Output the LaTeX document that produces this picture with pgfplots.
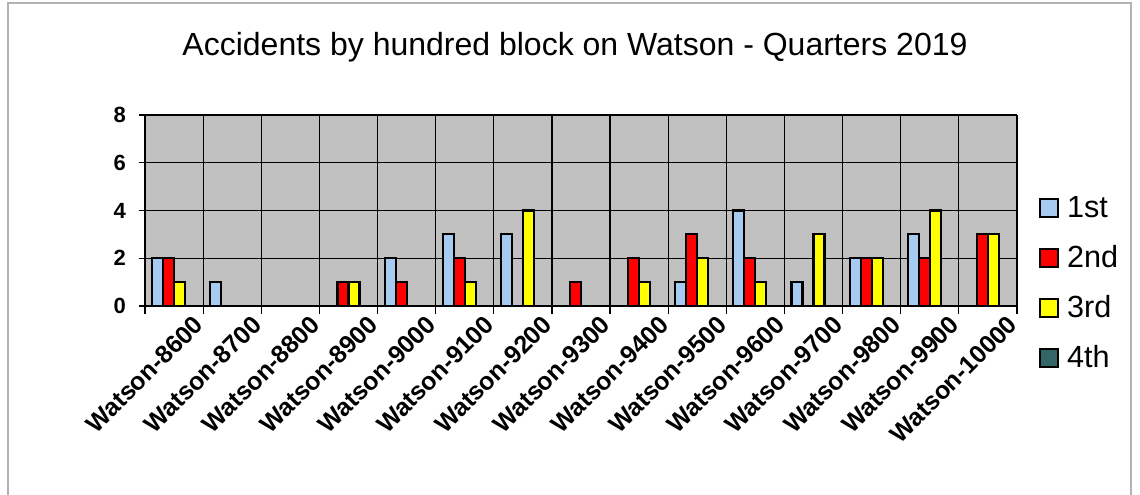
\documentclass[border=0pt]{standalone}
\usepackage{pgfplots}
\pgfplotsset{compat=1.18}
\usepackage{pgfplotstable}
\usepackage{fontspec}
\setmainfont{Liberation Sans}
\definecolor{plotbg}{RGB}{192,192,192}
\definecolor{qone}{RGB}{166,202,240}
\definecolor{qtwo}{RGB}{255,0,0}
\definecolor{qthree}{RGB}{255,255,0}
\definecolor{qfour}{RGB}{51,102,102}
\pgfplotstableread{
x q1 q2 q3 q4
0 2 2 1 0
1 1 0 0 0
2 0 0 0 0
3 0 1 1 0
4 2 1 0 0
5 3 2 1 0
6 3 0 4 0
7 0 1 0 0
8 0 2 1 0
9 1 3 2 0
10 4 2 1 0
11 1 0 3 0
12 2 2 2 0
13 3 2 4 0
14 0 3 3 0
}\datatable
\begin{document}
\begin{tikzpicture}
\useasboundingbox (0,0) rectangle (570pt,-247pt);
\draw[gray!60, line width=0.6pt] (4pt,-260pt) -- (4pt,-1.5pt) -- (565.5pt,-1.5pt) -- (565.5pt,-260pt);
\node[font=\fontsize{16}{19}\selectfont] at (287.5pt,-23.5pt) {Accidents by hundred block on Watson - Quarters 2019};
\begin{axis}[
  at={(72.5pt,-153pt)}, anchor=south west,
  scale only axis, width=436pt, height=95.5pt,
  xmin=-0.5, xmax=14.5, ymin=0, ymax=8,
  axis background/.style={fill=plotbg},
  axis line style={black, line width=0.6pt},
  axis x line*=bottom, axis y line*=left,
  ytick={0,2,4,6,8},
  ymajorgrids, xminorgrids,
  major grid style={black, line width=0.6pt},
  minor grid style={black, line width=0.6pt},
  xtick={0,...,14},
  xticklabels={Watson-8600,Watson-8700,Watson-8800,Watson-8900,Watson-9000,Watson-9100,Watson-9200,Watson-9300,Watson-9400,Watson-9500,Watson-9600,Watson-9700,Watson-9800,Watson-9900,Watson-10000},
  minor xtick={-0.5,0.5,...,14.5},
  tick align=outside,
  major x tick style={draw=none},
  minor x tick style={black, line width=0.6pt},
  major y tick style={black, line width=0.6pt},
  major tick length=3pt, minor tick length=4pt,
  /pgf/number format/assume math mode=true,
  yticklabel style={font=\bfseries\fontsize{11}{12}\selectfont, xshift=-3pt},
  xticklabel style={font=\bfseries\fontsize{12.5}{14}\selectfont, rotate=45, anchor=north east, inner sep=1pt, yshift=-6pt, xshift=7pt},
  legend style={at={(1.018,0.62)}, anchor=north west, draw=none, fill=none,
    font=\fontsize{15.3}{17}\selectfont, row sep=8.5pt,
    legend cell align=left},
  legend image code/.code={\draw[#1, draw=black, line width=1pt] (0pt,-4.5pt) rectangle (9pt,4.5pt); \path (11pt,0pt);},
  every axis plot/.append style={ybar, bar width=5.5pt, draw=black, line width=1.05pt},
]
\addplot[fill=qone, bar shift=-8.25pt] table[x=x, y=q1] {\datatable};
\addplot[fill=qtwo, bar shift=-2.75pt] table[x=x, y=q2] {\datatable};
\addplot[fill=qthree, bar shift=2.75pt] table[x=x, y=q3] {\datatable};
\addplot[fill=qfour, bar shift=8.25pt] table[x=x, y=q4] {\datatable};
\legend{1st,2nd,3rd,4th}
\end{axis}
\end{tikzpicture}
\end{document}
